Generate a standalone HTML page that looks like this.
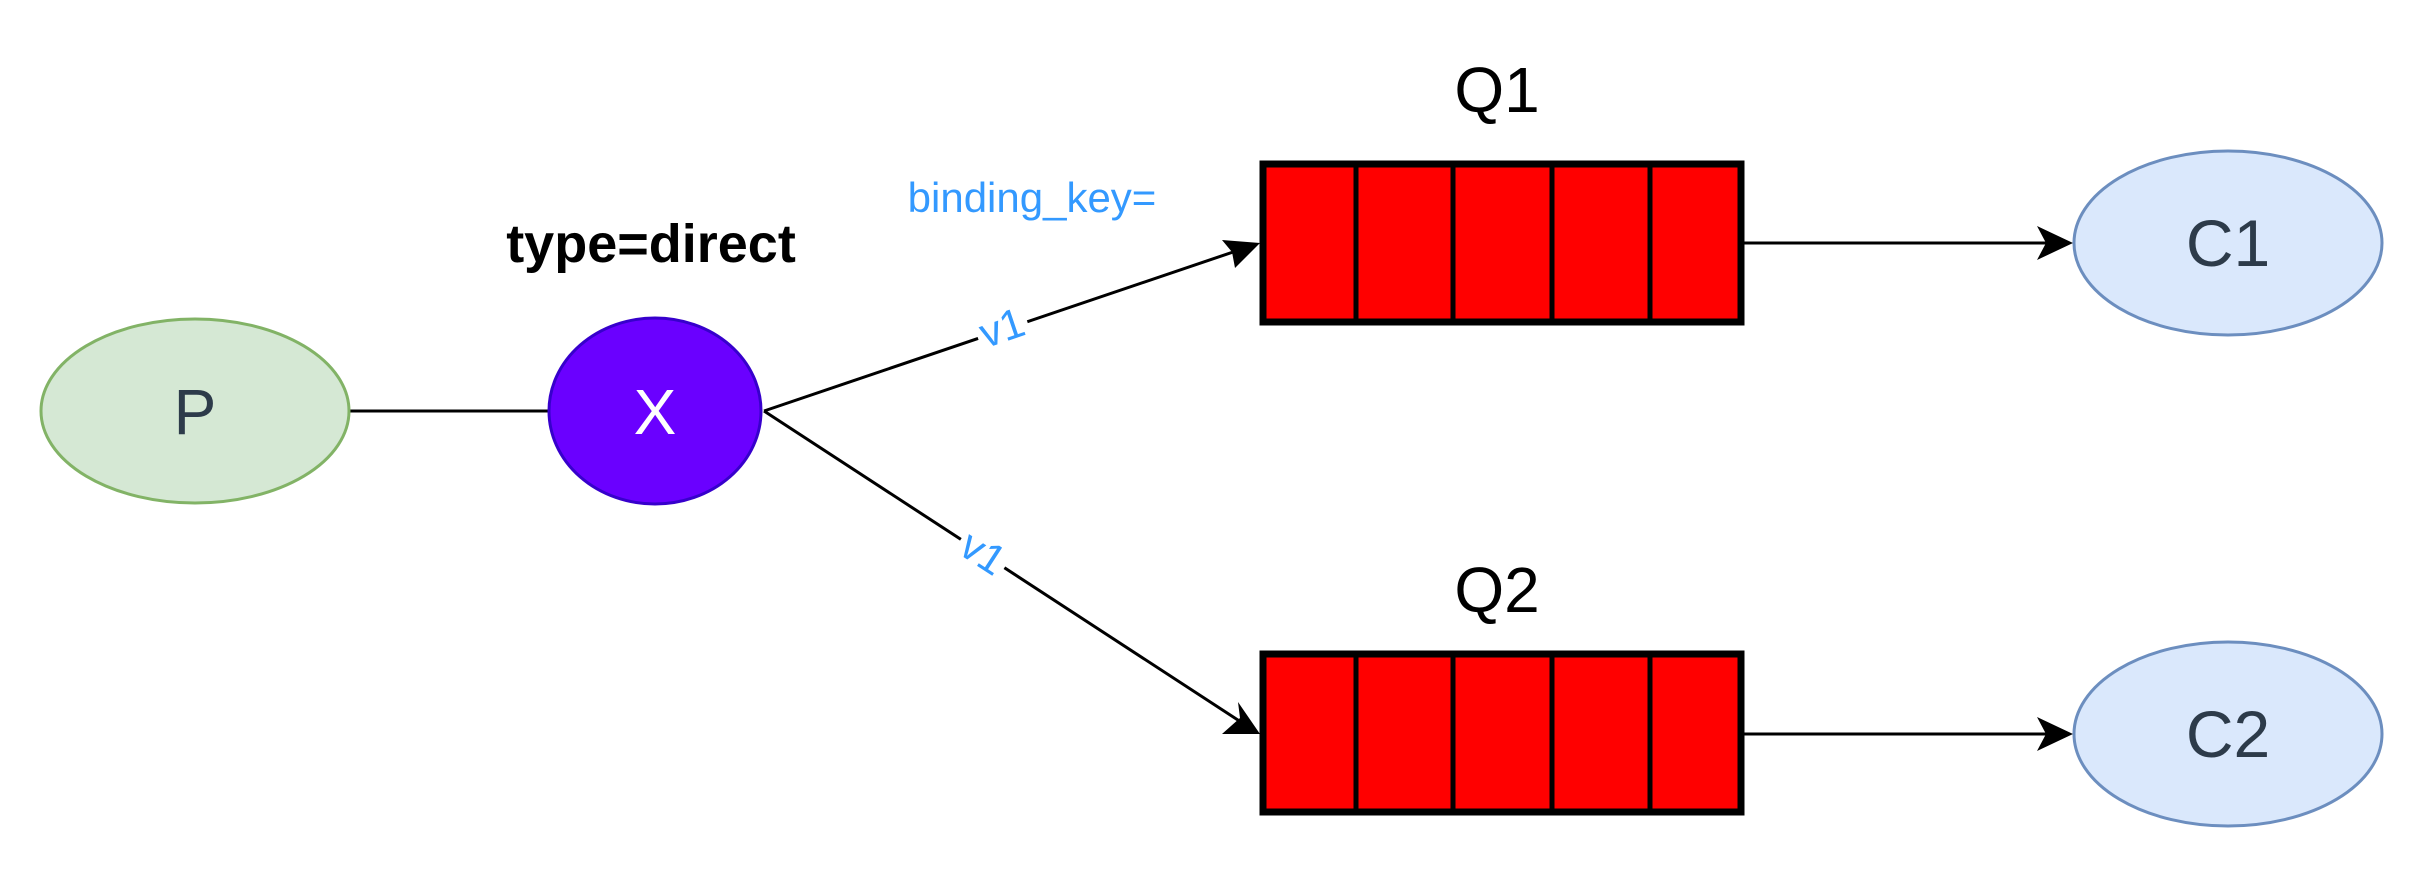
<!DOCTYPE html>
<html><head><meta charset="utf-8"><style>html,body{margin:0;padding:0;background:#fff;}svg{display:block}</style></head>
<body>
<svg width="2424" height="872" viewBox="0 0 2424 872" xmlns="http://www.w3.org/2000/svg" font-family="Liberation Sans, Arial, sans-serif">
<!-- lines -->
<line x1="350" y1="411" x2="548" y2="411" stroke="#000" stroke-width="3"/>
<line x1="764" y1="411" x2="1242" y2="249" stroke="#000" stroke-width="3"/>
<polygon points="1260,243 1222,240 1232,252 1235,268" fill="#000"/>
<line x1="764" y1="411" x2="1244" y2="724" stroke="#000" stroke-width="3"/>
<polygon points="1260,734 1238,702 1240,718 1222,734" fill="#000"/>
<line x1="1744" y1="243" x2="2055" y2="243" stroke="#000" stroke-width="3"/>
<polygon points="2073,243 2037,226 2046,243 2037,260" fill="#000"/>
<line x1="1744" y1="734" x2="2055" y2="734" stroke="#000" stroke-width="3"/>
<polygon points="2073,734 2037,717 2046,734 2037,751" fill="#000"/>
<!-- edge labels -->
<g transform="translate(1002,328) rotate(-18.7)"><rect x="-26" y="-26" width="52" height="46" fill="#fff"/><text x="0" y="14" font-size="42" fill="#3399ff" text-anchor="middle">v1</text></g>
<g transform="translate(983,553) rotate(33)"><rect x="-26" y="-26" width="52" height="46" fill="#fff"/><text x="0" y="14" font-size="42" fill="#3399ff" text-anchor="middle">v1</text></g>
<!-- nodes -->
<ellipse cx="195" cy="411" rx="154" ry="92" fill="#d5e8d4" stroke="#82b366" stroke-width="3"/>
<text x="195" y="434" font-size="64" fill="#2d3b4a" text-anchor="middle">P</text>
<ellipse cx="655" cy="411" rx="106" ry="93" fill="#6a00ff" stroke="#3700cc" stroke-width="3"/>
<text x="655" y="434" font-size="64" fill="#fff" text-anchor="middle">X</text>
<ellipse cx="2228" cy="243" rx="154" ry="92" fill="#dae8fc" stroke="#6c8ebf" stroke-width="3"/>
<text x="2228" y="266" font-size="66" fill="#2d3b4a" text-anchor="middle">C1</text>
<ellipse cx="2228" cy="734" rx="154" ry="92" fill="#dae8fc" stroke="#6c8ebf" stroke-width="3"/>
<text x="2228" y="757" font-size="66" fill="#2d3b4a" text-anchor="middle">C2</text>
<!-- queues -->
<g fill="#ff0000" stroke="#000" stroke-width="7">
<rect x="1263" y="164" width="478" height="158"/>
<rect x="1263" y="654" width="478" height="158"/>
</g>
<g stroke="#000" stroke-width="5">
<line x1="1356" y1="164" x2="1356" y2="322"/><line x1="1453" y1="164" x2="1453" y2="322"/><line x1="1552" y1="164" x2="1552" y2="322"/><line x1="1650" y1="164" x2="1650" y2="322"/>
<line x1="1356" y1="654" x2="1356" y2="812"/><line x1="1453" y1="654" x2="1453" y2="812"/><line x1="1552" y1="654" x2="1552" y2="812"/><line x1="1650" y1="654" x2="1650" y2="812"/>
</g>
<text x="1497" y="112" font-size="64" fill="#000" text-anchor="middle">Q1</text>
<text x="1497" y="612" font-size="64" fill="#000" text-anchor="middle">Q2</text>
<text x="651" y="262" font-size="54" font-weight="bold" fill="#000" text-anchor="middle">type=direct</text>
<text x="1032" y="212" font-size="42" fill="#3399ff" text-anchor="middle">binding_key=</text>
</svg>
</body></html>
